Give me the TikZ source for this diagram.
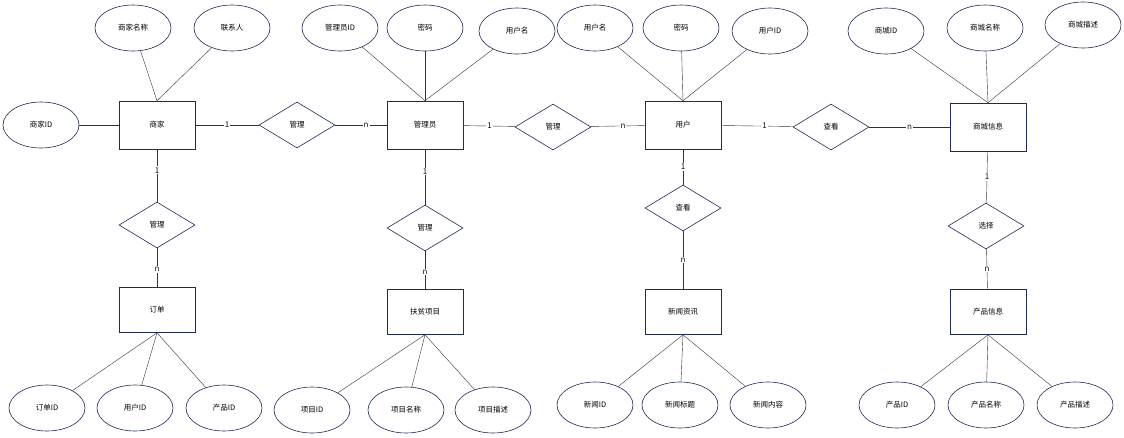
\documentclass[tikz,border=0pt]{standalone}
\usepackage{fontspec}
\setmainfont{Noto Sans CJK SC}
\usetikzlibrary{shapes.geometric}
\definecolor{navy}{HTML}{1F2A55}
\definecolor{linegray}{HTML}{333333}
\tikzset{
  entity/.style={draw=navy, semithick, minimum width=76pt, minimum height=48pt, font=\fontsize{7.5}{8}\selectfont},
  attr/.style={draw=navy, semithick, ellipse, minimum width=76pt, minimum height=46pt, font=\fontsize{7.5}{8}\selectfont},
  rel/.style={draw=navy, semithick, diamond, aspect=1.65, minimum width=76pt, minimum height=46pt, inner sep=0pt, font=\fontsize{7.5}{8}\selectfont},
  card/.style={fill=white, inner sep=1pt, font=\fontsize{8}{9}\selectfont, text=black!70!violet},
  link/.style={draw=linegray}
}
\begin{document}
\begin{tikzpicture}[x=1pt, y=-1pt]
  \useasboundingbox (0,0) rectangle (1124,437);
  % Entities
  \node[entity] (shangjia) at (157,125) {商家};
  \node[entity] (admin) at (425,125) {管理员};
  \node[entity] (user) at (683,125) {用户};
  \node[entity] (mall) at (988,127) {商城信息};
  \node[entity, minimum height=45pt] (order) at (157,310) {订单};
  \node[entity, minimum height=45pt] (project) at (425,312) {扶贫项目};
  \node[entity, minimum height=45pt] (news) at (683,312) {新闻资讯};
  \node[entity, minimum height=45pt] (product) at (988,312) {产品信息};

  % Relations
  \node[rel] (r1) at (297,125) {管理};
  \node[rel] (r2) at (553,127) {管理};
  \node[rel] (r3) at (831,127) {查看};
  \node[rel] (r4) at (157,225) {管理};
  \node[rel] (r5) at (425,228) {管理};
  \node[rel] (r6) at (683,208) {查看};
  \node[rel] (r7) at (986,226) {选择};

  % Attributes
  \node[attr] (sjname) at (133,28) {商家名称};
  \node[attr] (sjcontact) at (232,28) {联系人};
  \node[attr] (sjid) at (41,125) {商家ID};
  \node[attr] (adminid) at (340,28) {管理员ID};
  \node[attr] (adminpwd) at (425,28) {密码};
  \node[attr] (adminname) at (517,31) {用户名};
  \node[attr] (username) at (595,28) {用户名};
  \node[attr] (userpwd) at (681,28) {密码};
  \node[attr] (userid) at (770,31) {用户ID};
  \node[attr] (mallid) at (886,31) {商城ID};
  \node[attr] (mallname) at (985,28) {商城名称};
  \node[attr] (malldesc) at (1083,25) {商城描述};
  \node[attr] (orderid) at (47,408) {订单ID};
  \node[attr] (orderuser) at (135,408) {用户ID};
  \node[attr] (orderprod) at (224,408) {产品ID};
  \node[attr] (projid) at (312,410) {项目ID};
  \node[attr] (projname) at (406,410) {项目名称};
  \node[attr] (projdesc) at (493,410) {项目描述};
  \node[attr] (newsid) at (595,405) {新闻ID};
  \node[attr] (newstitle) at (680,405) {新闻标题};
  \node[attr] (newsbody) at (768,405) {新闻内容};
  \node[attr] (prodid) at (897,405) {产品ID};
  \node[attr] (prodname) at (986,405) {产品名称};
  \node[attr] (proddesc) at (1075,405) {产品描述};

  % Attribute lines
  \foreach \a/\e in {sjname/shangjia, sjcontact/shangjia,
      adminid/admin, adminpwd/admin, adminname/admin,
      username/user, userpwd/user, userid/user,
      mallid/mall, mallname/mall, malldesc/mall}
    \draw[link] (\a) -- (\e.north);
  \foreach \a/\e in {orderid/order, orderuser/order, orderprod/order,
      projid/project, projname/project, projdesc/project,
      newsid/news, newstitle/news, newsbody/news,
      prodid/product, prodname/product, proddesc/product}
    \draw[link] (\a) -- (\e.south);
  \draw[link] (sjid) -- (shangjia);

  % Relation lines
  \draw[link] (shangjia) -- node[card, pos=.5] {1} (r1);
  \draw[link] (r1) -- node[card, pos=.6] {n} (admin);
  \draw[link] (admin) -- node[card, pos=.5] {1} (r2);
  \draw[link] (r2) -- node[card, pos=.6] {n} (user);
  \draw[link] (user) -- node[card, pos=.6] {1} (r3);
  \draw[link] (r3) -- node[card, pos=.5] {n} (mall);
  \draw[link] (shangjia) -- node[card, pos=.4] {1} (r4);
  \draw[link] (r4) -- node[card, pos=.55] {n} (order);
  \draw[link] (admin) -- node[card, pos=.4] {1} (r5);
  \draw[link] (r5) -- node[card, pos=.55] {n} (project);
  \draw[link] (user) -- node[card, pos=.5] {1} (r6);
  \draw[link] (r6) -- node[card, pos=.5] {n} (news);
  \draw[link] (mall) -- node[card, pos=.5] {1} (r7);
  \draw[link] (r7) -- node[card, pos=.5] {n} (product);
\end{tikzpicture}
\end{document}
